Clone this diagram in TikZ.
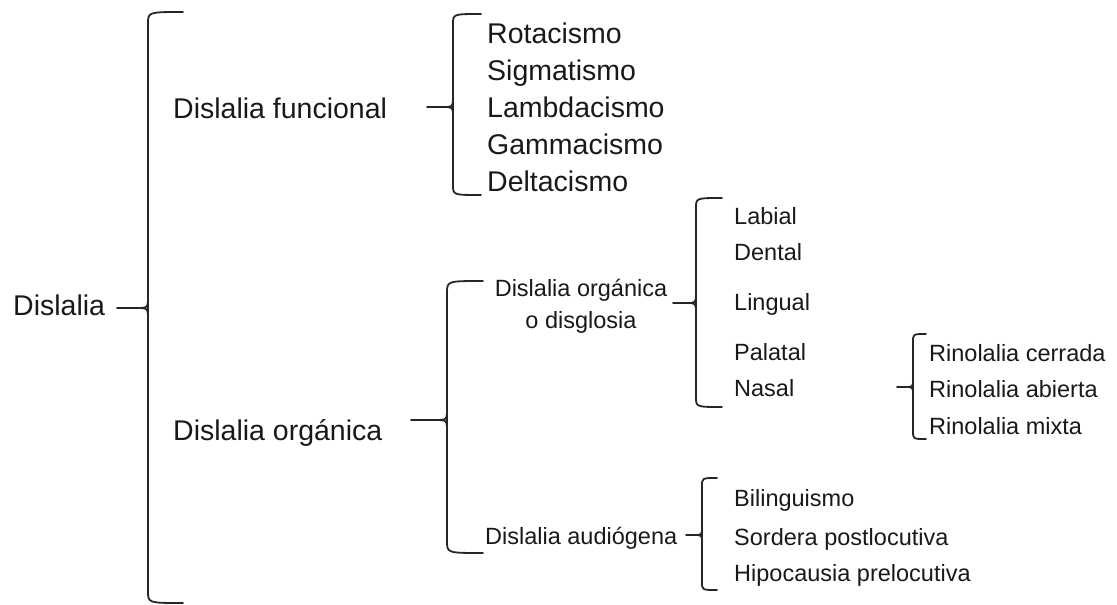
\documentclass[tikz,border=0pt]{standalone}
\usepackage{fontspec}
\setmainfont{Liberation Sans}
\newcommand\cbr[7]{% x, top, mid, bot, tipx, hookx, r
  \draw[bracestyle] (#6,#2) .. controls (#1,#2) .. (#1,{#2+#7}) -- (#1,{#4-#7}) .. controls (#1,#4) .. (#6,#4);
  \draw[bracestyle] (#1,{#3-#7}) .. controls (#1,#3) .. ({#1-#7},#3) -- (#5,#3);
  \draw[bracestyle] (#1,{#3+#7}) .. controls (#1,#3) .. ({#1-#7},#3);
  \draw[bracestyle] (#1,{#2+#7}) -- (#1,{#3-#7});
  \draw[bracestyle] (#1,{#3+#7}) -- (#1,{#4-#7});
}
\begin{document}
\begin{tikzpicture}[x=1pt,y=-1pt,
  bracestyle/.style={draw=black!85,line width=1.8pt,line cap=round},
  big/.style={anchor=west,inner sep=0pt,text height=20.4pt,text depth=0pt,font=\fontsize{28.5}{34}\selectfont,text=black!90},
  small/.style={anchor=west,inner sep=0pt,text height=16.8pt,text depth=0pt,font=\fontsize{23.5}{32}\selectfont,text=black!90}]
\useasboundingbox (0,0) rectangle (1117,605);
% level 0 and 1
\node[big] (dis) at (13,305) {Dislalia};
\node[big] (fun) at (173,108) {Dislalia funcional};
\node[big] (org) at (173,430) {Dislalia orgánica};
% funcional
\node[big] (r1) at (487,33) {Rotacismo};
\node[big] (r2) at (487,70) {Sigmatismo};
\node[big] (r3) at (487,107) {Lambdacismo};
\node[big] (r4) at (487,144) {Gammacismo};
\node[big] (r5) at (487,181) {Deltacismo};
% orgánica
\node[anchor=base,inner sep=0pt,font=\fontsize{23.5}{32}\selectfont,text=black!90] (dog) at (581,296.4)
  {\begin{tabular}[t]{@{}c@{}}Dislalia orgánica\\o disglosia\end{tabular}};
\node[small] (aud) at (485,536) {Dislalia audiógena};
\node[small] (lab) at (734,216) {Labial};
\node[small] (den) at (734,252) {Dental};
\node[small] (lin) at (734,302) {Lingual};
\node[small] (pal) at (734,352) {Palatal};
\node[small] (nas) at (734,388) {Nasal};
\node[small] (bil) at (734,498) {Bilinguismo};
\node[small] (sor) at (734,537) {Sordera postlocutiva};
\node[small] (hip) at (734,573) {Hipocausia prelocutiva};
\node[small] (rc) at (929,353) {Rinolalia cerrada};
\node[small] (ra) at (929,389) {Rinolalia abierta};
\node[small] (rm) at (929,426) {Rinolalia mixta};
% braces
\cbr{148}{12}{308}{603}{117}{183}{12}
\cbr{453}{14}{107}{195}{427}{481}{10}
\cbr{447}{281}{420}{553}{411}{483}{12}
\cbr{696}{198}{303}{407}{673}{722}{10}
\cbr{702}{478}{535}{590}{686}{717}{8}
\cbr{913}{334}{387}{439}{897}{926}{8}
\end{tikzpicture}
\end{document}
